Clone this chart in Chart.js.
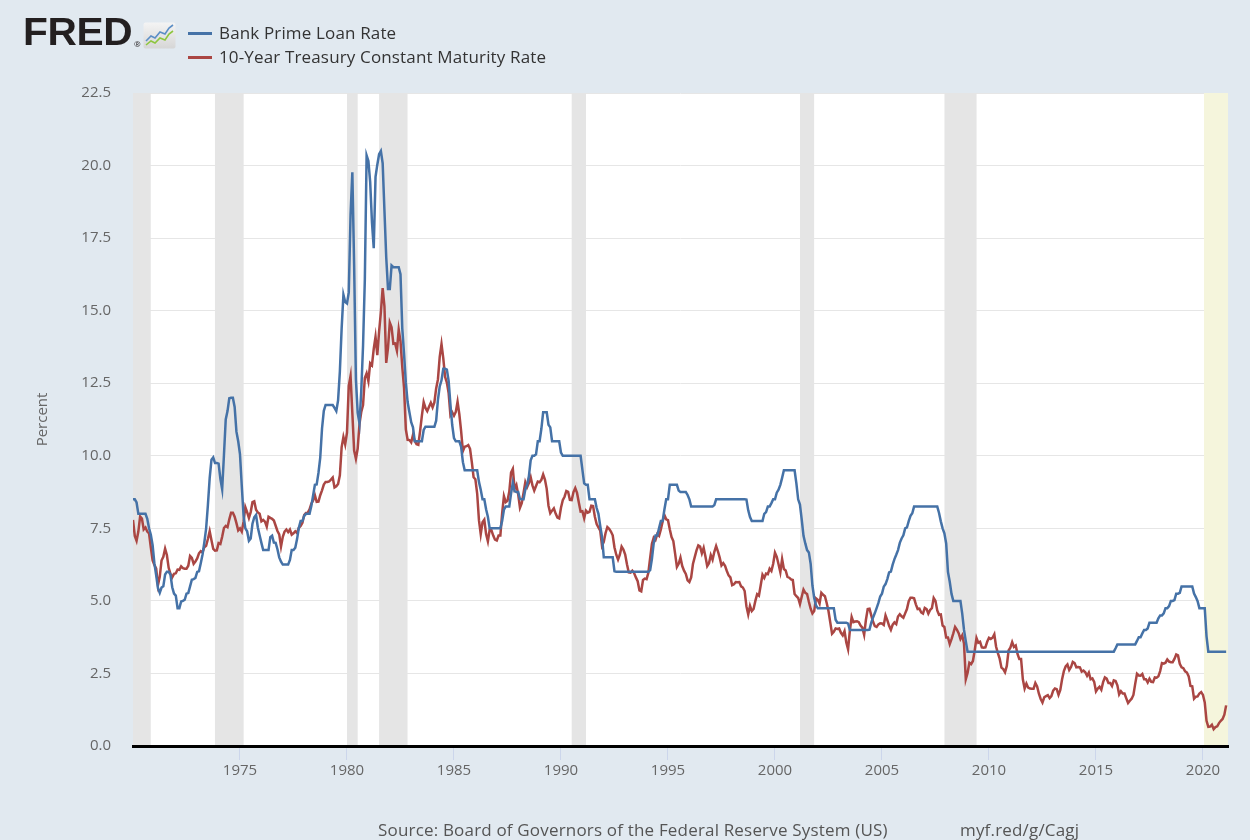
<!DOCTYPE html>
<html>
<head>
<meta charset="utf-8">
<script src="https://cdn.jsdelivr.net/npm/chart.js@4"></script>
<style>
  body { margin: 0; background: #e1e9f0; font-family: "Open Sans", sans-serif; }
  #wrap { position: relative; width: 1250px; height: 840px; overflow: hidden; }
  #fredChart { position: absolute; left: 0; top: 0; }
  .logo { position: absolute; left: 23px; top: 13px; font-family: "Liberation Sans", Arial, sans-serif;
          font-weight: bold; font-size: 38px; line-height: 38px; color: #231f20; letter-spacing: -0.3px;
          transform: scaleX(1.07); transform-origin: left top; }
  .reg { position: absolute; left: 134px; top: 38px; font-size: 8px; color: #231f20; }
  .icon { position: absolute; left: 143px; top: 22px; }
  .leg { position: absolute; left: 188px; font-size: 17px; line-height: 17px; letter-spacing: 0.15px; color: #333; white-space: nowrap; }
  .leg i { display: inline-block; width: 24px; height: 3px; vertical-align: middle; margin-right: 7px; position: relative; top: -1px; }
  .src { position: absolute; top: 821px; font-size: 17px; line-height: 17px; letter-spacing: 0.18px; color: #555; white-space: nowrap; }
</style>
</head>
<body>
<div id="wrap">
  <canvas id="fredChart" width="1250" height="840"></canvas>
  <div class="logo">FRED</div>
  <div class="reg">®</div>
  <svg class="icon" width="33" height="27" viewBox="0 0 33 27">
    <defs>
      <linearGradient id="g" x1="0" y1="0" x2="0" y2="1">
        <stop offset="0" stop-color="#f4f4f4"/><stop offset="1" stop-color="#d6d6d6"/>
      </linearGradient>
    </defs>
    <rect x="0.5" y="0.5" width="32" height="26" rx="2" fill="url(#g)"/>
    <polyline points="3,19 8,14 12,16 17,10 22,12 26,6 30,3" fill="none" stroke="#5b8ec6" stroke-width="1.6"/>
    <polyline points="3,23 8,19 12,21 17,16 22,18 26,12 30,9" fill="none" stroke="#8dc63f" stroke-width="1.6"/>
  </svg>
  <div class="leg" style="top:24px"><i style="background:#4572a7"></i>Bank Prime Loan Rate</div>
  <div class="leg" style="top:48px"><i style="background:#aa4643"></i>10-Year Treasury Constant Maturity Rate</div>
  <div class="src" style="left:378px">Source: Board of Governors of the Federal Reserve System (US)</div>
  <div class="src" style="left:960px">myf.red/g/Cagj</div>
</div>
<script>
// monthly values, Jan 1970 .. Feb 2021
const startYear = 1970;

const primeRate = [
  8.50, 8.50, 8.39, 8.00, 8.00, 8.00, 8.00, 8.00, 7.83, 7.50, 7.28, 6.92,
  6.29, 5.88, 5.44, 5.28, 5.46, 5.50, 5.91, 6.00, 6.00, 5.91, 5.47, 5.25,
  5.18, 4.75, 4.75, 4.98, 5.00, 5.04, 5.25, 5.27, 5.50, 5.73, 5.75, 5.79,
  6.00, 6.02, 6.30, 6.60, 7.01, 7.49, 8.30, 9.23, 9.86, 9.94, 9.75, 9.75,
  9.73, 9.21, 8.85, 10.02, 11.25, 11.54, 11.98, 12.00, 12.00, 11.68, 10.83, 10.50,
  10.05, 8.96, 7.93, 7.50, 7.40, 7.07, 7.15, 7.66, 7.88, 7.96, 7.53, 7.26,
  7.00, 6.75, 6.75, 6.75, 6.75, 7.20, 7.25, 7.01, 7.00, 6.78, 6.50, 6.35,
  6.25, 6.25, 6.25, 6.25, 6.41, 6.75, 6.75, 6.83, 7.13, 7.52, 7.75, 7.75,
  7.93, 8.00, 8.00, 8.00, 8.27, 8.63, 9.00, 9.01, 9.41, 9.94, 10.94, 11.55,
  11.75, 11.75, 11.75, 11.75, 11.75, 11.65, 11.54, 11.91, 12.90, 14.39, 15.55, 15.30,
  15.25, 15.63, 18.31, 19.77, 16.57, 12.63, 11.48, 11.12, 12.23, 13.79, 16.06, 20.35,
  20.16, 19.43, 18.05, 17.15, 19.61, 20.03, 20.39, 20.50, 20.08, 18.45, 16.84, 15.75,
  15.75, 16.56, 16.50, 16.50, 16.50, 16.50, 16.26, 14.39, 13.50, 12.52, 11.85, 11.50,
  11.16, 10.98, 10.50, 10.50, 10.50, 10.50, 10.50, 10.89, 11.00, 11.00, 11.00, 11.00,
  11.00, 11.00, 11.21, 11.93, 12.39, 12.60, 13.00, 13.00, 12.97, 12.58, 11.77, 11.06,
  10.61, 10.50, 10.50, 10.50, 10.31, 9.78, 9.50, 9.50, 9.50, 9.50, 9.50, 9.50,
  9.50, 9.50, 9.10, 8.83, 8.50, 8.50, 8.16, 7.90, 7.50, 7.50, 7.50, 7.50,
  7.50, 7.50, 7.50, 7.75, 8.14, 8.25, 8.25, 8.25, 8.70, 9.07, 8.78, 8.75,
  8.75, 8.51, 8.50, 8.50, 8.84, 9.00, 9.29, 9.84, 10.00, 10.00, 10.05, 10.50,
  10.50, 10.93, 11.50, 11.50, 11.50, 11.07, 10.98, 10.50, 10.50, 10.50, 10.50, 10.50,
  10.11, 10.00, 10.00, 10.00, 10.00, 10.00, 10.00, 10.00, 10.00, 10.00, 10.00, 10.00,
  9.52, 9.05, 9.00, 9.00, 8.50, 8.50, 8.50, 8.50, 8.20, 8.00, 7.58, 7.21,
  6.50, 6.50, 6.50, 6.50, 6.50, 6.50, 6.02, 6.00, 6.00, 6.00, 6.00, 6.00,
  6.00, 6.00, 6.00, 6.00, 6.00, 6.00, 6.00, 6.00, 6.00, 6.00, 6.00, 6.00,
  6.00, 6.00, 6.06, 6.45, 6.99, 7.25, 7.25, 7.51, 7.75, 7.75, 8.15, 8.50,
  8.50, 9.00, 9.00, 9.00, 9.00, 9.00, 8.80, 8.75, 8.75, 8.75, 8.75, 8.65,
  8.50, 8.25, 8.25, 8.25, 8.25, 8.25, 8.25, 8.25, 8.25, 8.25, 8.25, 8.25,
  8.25, 8.25, 8.30, 8.50, 8.50, 8.50, 8.50, 8.50, 8.50, 8.50, 8.50, 8.50,
  8.50, 8.50, 8.50, 8.50, 8.50, 8.50, 8.50, 8.50, 8.49, 8.12, 7.89, 7.75,
  7.75, 7.75, 7.75, 7.75, 7.75, 7.75, 8.00, 8.06, 8.25, 8.25, 8.37, 8.50,
  8.50, 8.73, 8.83, 9.00, 9.24, 9.50, 9.50, 9.50, 9.50, 9.50, 9.50, 9.50,
  9.05, 8.50, 8.32, 7.80, 7.24, 6.98, 6.75, 6.67, 6.28, 5.53, 5.10, 4.84,
  4.75, 4.75, 4.75, 4.75, 4.75, 4.75, 4.75, 4.75, 4.75, 4.75, 4.35, 4.25,
  4.25, 4.25, 4.25, 4.25, 4.25, 4.22, 4.00, 4.00, 4.00, 4.00, 4.00, 4.00,
  4.00, 4.00, 4.00, 4.00, 4.00, 4.01, 4.25, 4.43, 4.58, 4.75, 4.93, 5.15,
  5.25, 5.49, 5.58, 5.75, 5.98, 6.01, 6.25, 6.44, 6.59, 6.75, 7.00, 7.15,
  7.26, 7.50, 7.53, 7.75, 7.93, 8.02, 8.25, 8.25, 8.25, 8.25, 8.25, 8.25,
  8.25, 8.25, 8.25, 8.25, 8.25, 8.25, 8.25, 8.25, 8.03, 7.74, 7.50, 7.33,
  6.98, 6.00, 5.66, 5.24, 5.00, 5.00, 5.00, 5.00, 5.00, 4.56, 4.00, 3.61,
  3.25, 3.25, 3.25, 3.25, 3.25, 3.25, 3.25, 3.25, 3.25, 3.25, 3.25, 3.25,
  3.25, 3.25, 3.25, 3.25, 3.25, 3.25, 3.25, 3.25, 3.25, 3.25, 3.25, 3.25,
  3.25, 3.25, 3.25, 3.25, 3.25, 3.25, 3.25, 3.25, 3.25, 3.25, 3.25, 3.25,
  3.25, 3.25, 3.25, 3.25, 3.25, 3.25, 3.25, 3.25, 3.25, 3.25, 3.25, 3.25,
  3.25, 3.25, 3.25, 3.25, 3.25, 3.25, 3.25, 3.25, 3.25, 3.25, 3.25, 3.25,
  3.25, 3.25, 3.25, 3.25, 3.25, 3.25, 3.25, 3.25, 3.25, 3.25, 3.25, 3.25,
  3.25, 3.25, 3.25, 3.25, 3.25, 3.25, 3.25, 3.25, 3.25, 3.25, 3.25, 3.37,
  3.50, 3.50, 3.50, 3.50, 3.50, 3.50, 3.50, 3.50, 3.50, 3.50, 3.50, 3.62,
  3.75, 3.75, 3.88, 4.00, 4.00, 4.05, 4.25, 4.25, 4.25, 4.25, 4.25, 4.40,
  4.50, 4.50, 4.57, 4.75, 4.75, 4.82, 5.00, 5.00, 5.03, 5.25, 5.25, 5.28,
  5.50, 5.50, 5.50, 5.50, 5.50, 5.50, 5.50, 5.25, 5.13, 4.99, 4.75, 4.75,
  4.75, 4.75, 3.78, 3.25, 3.25, 3.25, 3.25, 3.25, 3.25, 3.25, 3.25, 3.25,
  3.25, 3.25
];

const treasury10y = [
  7.79, 7.24, 7.07, 7.39, 7.91, 7.84, 7.46, 7.53, 7.39, 7.33, 6.84, 6.39,
  6.24, 6.11, 5.55, 5.83, 6.39, 6.52, 6.80, 6.58, 6.14, 5.93, 5.81, 5.93,
  5.95, 6.08, 6.07, 6.19, 6.13, 6.11, 6.11, 6.21, 6.55, 6.48, 6.28, 6.36,
  6.46, 6.64, 6.71, 6.67, 6.85, 6.90, 7.13, 7.40, 7.09, 6.79, 6.73, 6.74,
  6.99, 6.96, 7.21, 7.51, 7.58, 7.54, 7.81, 8.04, 8.04, 7.90, 7.68, 7.43,
  7.50, 7.39, 7.73, 8.23, 8.06, 7.86, 8.06, 8.40, 8.43, 8.14, 8.05, 8.00,
  7.74, 7.79, 7.73, 7.56, 7.90, 7.86, 7.83, 7.77, 7.59, 7.41, 7.29, 6.87,
  7.21, 7.39, 7.46, 7.37, 7.46, 7.28, 7.33, 7.40, 7.34, 7.52, 7.58, 7.69,
  7.96, 8.03, 8.04, 8.15, 8.35, 8.46, 8.64, 8.41, 8.42, 8.64, 8.81, 9.01,
  9.10, 9.10, 9.12, 9.18, 9.25, 8.91, 8.95, 9.03, 9.33, 10.30, 10.65, 10.39,
  10.80, 12.41, 12.75, 11.47, 10.18, 9.90, 10.25, 11.10, 11.51, 11.75, 12.68, 12.84,
  12.57, 13.19, 13.12, 13.68, 14.10, 13.47, 14.28, 14.94, 15.78, 15.15, 13.20, 13.72,
  14.59, 14.43, 13.86, 13.87, 13.62, 14.35, 13.95, 13.06, 12.34, 10.91, 10.55, 10.54,
  10.46, 10.72, 10.51, 10.40, 10.38, 10.85, 11.38, 11.85, 11.65, 11.54, 11.69, 11.83,
  11.67, 11.84, 12.32, 12.63, 13.41, 13.85, 13.36, 12.72, 12.52, 12.16, 11.40, 11.50,
  11.38, 11.51, 11.86, 11.43, 10.85, 10.16, 10.31, 10.33, 10.37, 10.24, 9.78, 9.26,
  9.19, 8.70, 7.78, 7.30, 7.71, 7.80, 7.30, 7.05, 7.45, 7.43, 7.25, 7.11,
  7.08, 7.25, 7.25, 8.02, 8.61, 8.40, 8.45, 8.76, 9.42, 9.55, 8.86, 8.99,
  8.67, 8.21, 8.37, 8.72, 9.09, 8.92, 9.06, 9.26, 8.98, 8.80, 8.96, 9.11,
  9.09, 9.17, 9.36, 9.18, 8.86, 8.28, 8.02, 8.11, 8.19, 8.01, 7.87, 7.84,
  8.21, 8.47, 8.59, 8.79, 8.76, 8.48, 8.47, 8.75, 8.89, 8.72, 8.39, 8.08,
  8.09, 7.85, 8.11, 8.04, 8.07, 8.28, 8.27, 7.90, 7.65, 7.53, 7.42, 6.90,
  7.03, 7.34, 7.54, 7.48, 7.39, 7.26, 6.84, 6.59, 6.42, 6.59, 6.87, 6.77,
  6.60, 6.26, 5.98, 5.97, 6.04, 5.96, 5.81, 5.68, 5.36, 5.33, 5.72, 5.77,
  5.75, 5.97, 6.48, 6.97, 7.18, 7.10, 7.30, 7.24, 7.46, 7.74, 7.96, 7.81,
  7.78, 7.47, 7.20, 7.06, 6.63, 6.17, 6.28, 6.49, 6.20, 6.04, 5.93, 5.71,
  5.65, 5.81, 6.27, 6.51, 6.74, 6.91, 6.87, 6.64, 6.83, 6.53, 6.20, 6.30,
  6.58, 6.42, 6.69, 6.89, 6.71, 6.49, 6.22, 6.30, 6.21, 6.03, 5.88, 5.81,
  5.54, 5.57, 5.65, 5.64, 5.65, 5.50, 5.46, 5.34, 4.81, 4.53, 4.83, 4.65,
  4.72, 5.00, 5.23, 5.18, 5.54, 5.90, 5.79, 5.94, 5.92, 6.11, 6.03, 6.28,
  6.66, 6.52, 6.26, 5.99, 6.44, 6.10, 6.05, 5.83, 5.80, 5.74, 5.72, 5.24,
  5.16, 5.10, 4.89, 5.14, 5.39, 5.28, 5.24, 4.97, 4.73, 4.57, 4.65, 5.09,
  5.04, 4.91, 5.28, 5.21, 5.16, 4.93, 4.65, 4.26, 3.87, 3.94, 4.05, 4.03,
  4.05, 3.90, 3.81, 3.96, 3.57, 3.33, 3.98, 4.45, 4.27, 4.29, 4.30, 4.27,
  4.15, 4.08, 3.83, 4.35, 4.72, 4.73, 4.50, 4.28, 4.13, 4.10, 4.19, 4.23,
  4.22, 4.17, 4.50, 4.34, 4.14, 4.00, 4.18, 4.26, 4.20, 4.46, 4.54, 4.47,
  4.42, 4.57, 4.72, 4.99, 5.11, 5.11, 5.09, 4.88, 4.72, 4.73, 4.60, 4.56,
  4.76, 4.72, 4.56, 4.69, 4.75, 5.10, 5.00, 4.67, 4.52, 4.53, 4.15, 4.10,
  3.74, 3.74, 3.51, 3.68, 3.88, 4.10, 4.01, 3.89, 3.69, 3.81, 3.53, 2.30,
  2.52, 2.87, 2.82, 2.93, 3.29, 3.72, 3.56, 3.59, 3.40, 3.39, 3.40, 3.59,
  3.73, 3.69, 3.73, 3.85, 3.42, 3.20, 3.01, 2.70, 2.65, 2.54, 2.76, 3.29,
  3.39, 3.58, 3.41, 3.46, 3.17, 3.00, 3.00, 2.30, 1.98, 2.15, 2.01, 1.98,
  1.97, 1.97, 2.17, 2.05, 1.80, 1.62, 1.50, 1.68, 1.72, 1.75, 1.65, 1.72,
  1.91, 1.98, 1.96, 1.76, 1.93, 2.30, 2.58, 2.74, 2.81, 2.62, 2.72, 2.90,
  2.86, 2.71, 2.72, 2.71, 2.56, 2.60, 2.54, 2.42, 2.53, 2.30, 2.33, 2.21,
  1.88, 1.98, 2.04, 1.94, 2.20, 2.36, 2.32, 2.17, 2.17, 2.07, 2.26, 2.24,
  2.09, 1.78, 1.89, 1.81, 1.81, 1.64, 1.48, 1.56, 1.63, 1.76, 2.14, 2.49,
  2.43, 2.42, 2.48, 2.30, 2.30, 2.19, 2.32, 2.21, 2.20, 2.36, 2.35, 2.40,
  2.58, 2.86, 2.84, 2.87, 2.98, 2.91, 2.89, 2.89, 3.00, 3.15, 3.12, 2.83,
  2.71, 2.68, 2.57, 2.53, 2.40, 2.07, 2.06, 1.63, 1.70, 1.71, 1.81, 1.86,
  1.76, 1.50, 0.87, 0.66, 0.67, 0.73, 0.58, 0.65, 0.68, 0.79, 0.87, 0.93,
  1.08, 1.40
];

const xTicks = [1975, 1980, 1985, 1990, 1995, 2000, 2005, 2010, 2015, 2020];
const yTicks = [0, 2.5, 5, 7.5, 10, 12.5, 15, 17.5, 20, 22.5];

// NBER recessions (decimal years); the last one is still preliminary
const recessionStart = [1969.92, 1973.83, 1980.00, 1981.50, 1990.50, 2001.17, 2007.92];
const recessionEnd   = [1970.83, 1975.17, 1980.50, 1982.83, 1991.17, 2001.83, 2009.42];
const prelimStart = 2020.05;

const toPoints = arr => arr.map((v, i) => ({ x: startYear + i / 12, y: v }));

const backdrop = {
  id: "backdrop",
  beforeDraw(chart) {
    const a = chart.chartArea, ctx = chart.ctx;
    ctx.save();
    ctx.fillStyle = "#ffffff";
    ctx.fillRect(a.left, a.top, a.right - a.left, a.bottom - a.top);
    ctx.restore();
  },
  beforeDatasetsDraw(chart) {
    const a = chart.chartArea, ctx = chart.ctx, xs = chart.scales.x;
    ctx.save();
    ctx.beginPath();
    ctx.rect(a.left, a.top, a.right - a.left, a.bottom - a.top);
    ctx.clip();
    ctx.fillStyle = "#e5e5e5";
    recessionStart.forEach((s, i) => {
      const x0 = xs.getPixelForValue(s), x1 = xs.getPixelForValue(recessionEnd[i]);
      ctx.fillRect(x0, a.top, x1 - x0, a.bottom - a.top - 1);
    });
    ctx.fillStyle = "#f5f5dc";
    const p0 = xs.getPixelForValue(prelimStart);
    ctx.fillRect(p0, a.top, a.right - p0, a.bottom - a.top - 1);
    ctx.restore();
  }
};

Chart.defaults.font.family = "'Open Sans', sans-serif";

new Chart(document.getElementById("fredChart"), {
  type: "line",
  data: {
    datasets: [
      {
        label: "Bank Prime Loan Rate",
        data: toPoints(primeRate),
        borderColor: "#4572a7",
        borderWidth: 2.5,
        pointRadius: 0,
        tension: 0
      },
      {
        label: "10-Year Treasury Constant Maturity Rate",
        data: toPoints(treasury10y),
        borderColor: "#aa4643",
        borderWidth: 2.5,
        pointRadius: 0,
        tension: 0
      }
    ]
  },
  options: {
    responsive: false,
    animation: false,
    devicePixelRatio: 1,
    layout: { padding: { top: 93, right: 22, bottom: 0, left: 0 } },
    plugins: { legend: { display: false }, tooltip: { enabled: false } },
    scales: {
      x: {
        type: "linear",
        min: 1970,
        max: 2021.17,
        afterFit: s => { s.height = 94; },
        afterBuildTicks: s => { s.ticks = xTicks.map(v => ({ value: v })); },
        grid: { drawOnChartArea: false, color: "#ccd6eb", tickLength: 14 },
        border: { display: true, color: "#000000", width: 3 },
        ticks: {
          color: "#666666",
          font: { size: 15 },
          padding: 2,
          maxRotation: 0,
          autoSkip: false,
          callback: v => String(v)
        }
      },
      y: {
        min: 0,
        max: 22.5,
        afterFit: s => { s.width = 133; },
        afterBuildTicks: s => { s.ticks = yTicks.map(v => ({ value: v })); },
        grid: { color: "#e6e6e6", drawTicks: false },
        border: { display: false },
        ticks: {
          color: "#666666",
          font: { size: 15 },
          padding: 22,
          callback: v => v.toFixed(1)
        },
        title: {
          display: true,
          text: "Percent",
          color: "#666666",
          font: { size: 15 },
          padding: { top: 34, bottom: 0 }
        }
      }
    }
  },
  plugins: [backdrop]
});
</script>
</body>
</html>
